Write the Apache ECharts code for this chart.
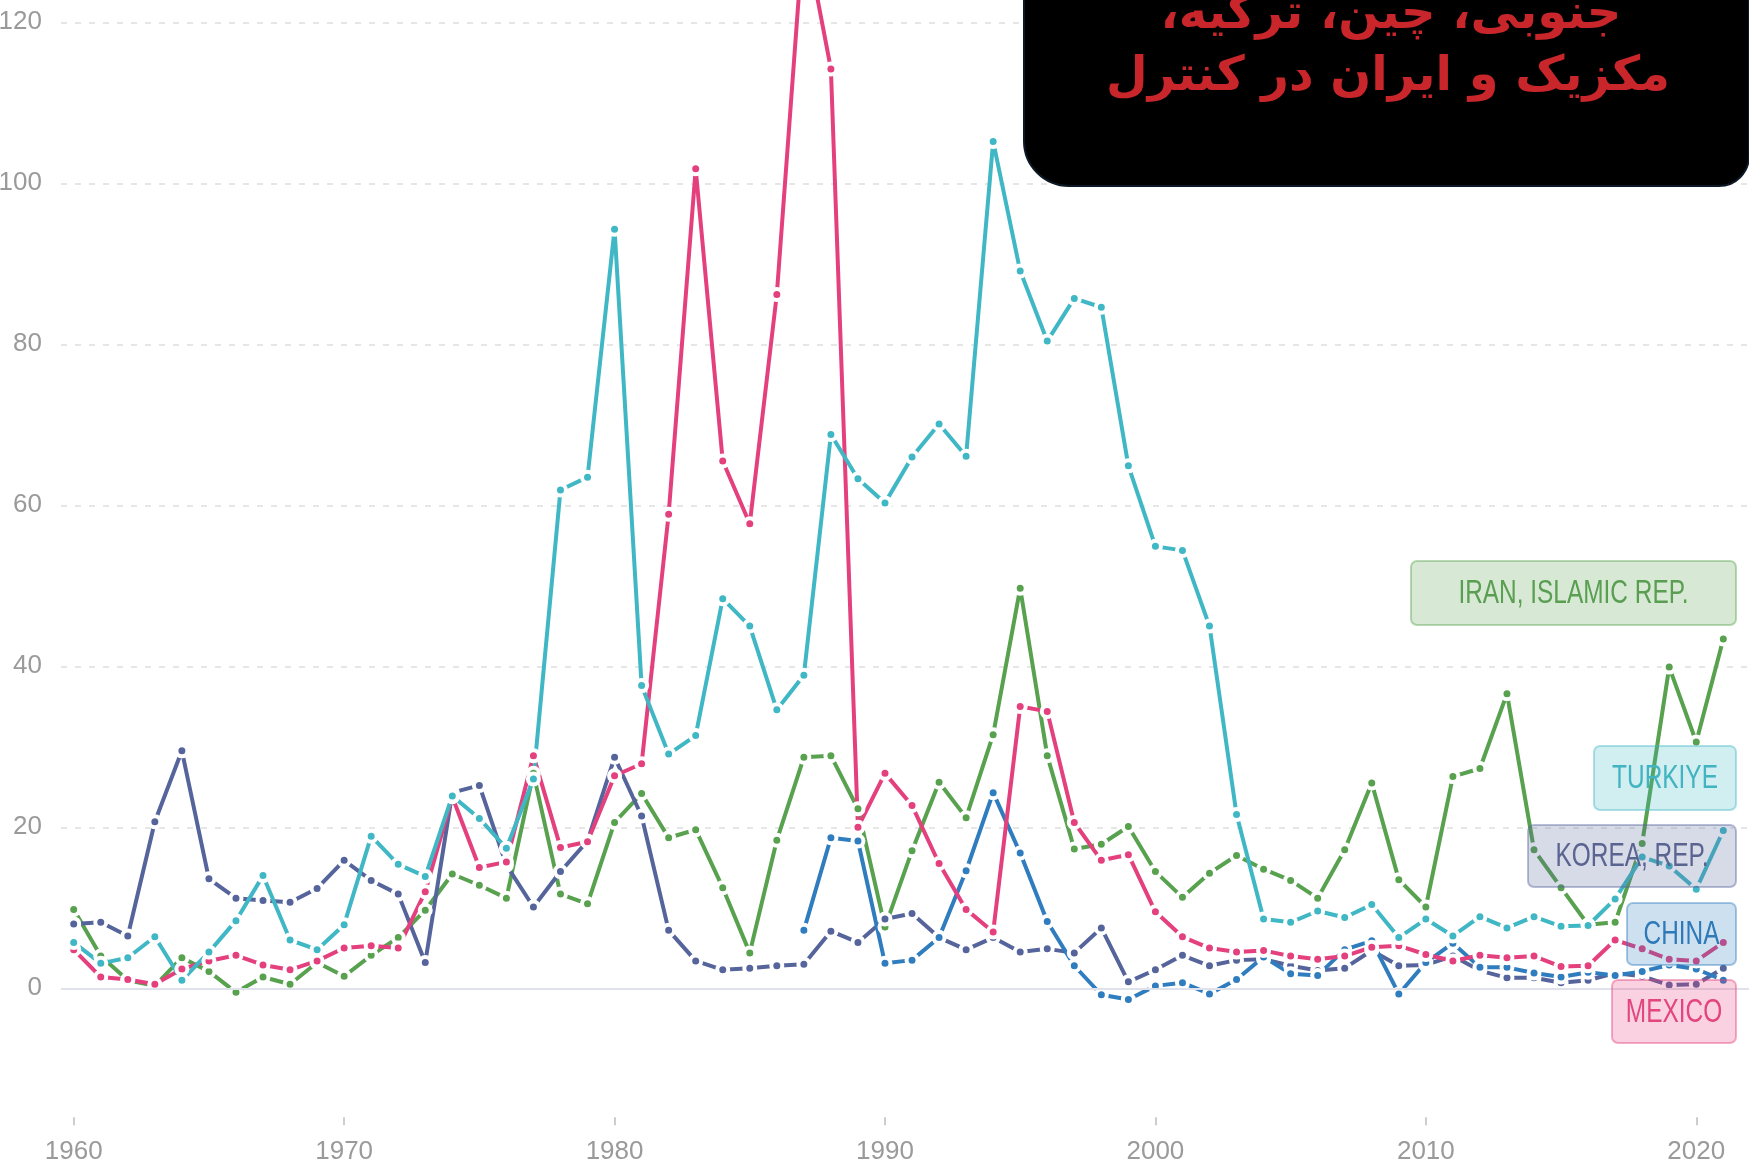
<!DOCTYPE html>
<html>
<head>
<meta charset="utf-8">
<script src="https://cdn.jsdelivr.net/npm/echarts@6/dist/echarts.min.js"></script>
<style>
    html, body { margin: 0; padding: 0; background: #fff; }
    #chart { width: 1749px; height: 1175px; }
</style>
</head>
<body>
<div id="chart"></div>
<script>
    // inflation, consumer prices (annual %)
    const years = [1960, 1961, 1962, 1963, 1964, 1965, 1966, 1967, 1968, 1969,
        1970, 1971, 1972, 1973, 1974, 1975, 1976, 1977, 1978, 1979,
        1980, 1981, 1982, 1983, 1984, 1985, 1986, 1987, 1988, 1989,
        1990, 1991, 1992, 1993, 1994, 1995, 1996, 1997, 1998, 1999,
        2000, 2001, 2002, 2003, 2004, 2005, 2006, 2007, 2008, 2009,
        2010, 2011, 2012, 2013, 2014, 2015, 2016, 2017, 2018, 2019,
        2020, 2021];

    const iran = [9.8, 4.0, 1.0, 0.3, 3.8, 2.1, -0.5, 1.4, 0.5, 3.2,
        1.5, 4.1, 6.3, 9.7, 14.2, 12.8, 11.2, 26.7, 11.7, 10.5,
        20.6, 24.2, 18.7, 19.7, 12.5, 4.4, 18.4, 28.7, 28.9, 22.3,
        7.6, 17.1, 25.6, 21.2, 31.5, 49.7, 28.9, 17.3, 17.9, 20.1,
        14.5, 11.3, 14.3, 16.5, 14.8, 13.4, 11.2, 17.2, 25.5, 13.5,
        10.1, 26.3, 27.3, 36.6, 17.2, 12.5, 7.9, 8.2, 18.0, 39.9,
        30.6, 43.4];

    const korea = [8.0, 8.2, 6.5, 20.7, 29.5, 13.6, 11.2, 10.9, 10.7, 12.4,
        15.9, 13.4, 11.7, 3.2, 24.3, 25.2, 15.3, 10.1, 14.5, 18.3,
        28.7, 21.4, 7.2, 3.4, 2.3, 2.5, 2.8, 3.0, 7.1, 5.7,
        8.6, 9.3, 6.3, 4.8, 6.3, 4.5, 4.9, 4.4, 7.5, 0.8,
        2.3, 4.1, 2.8, 3.5, 3.6, 2.8, 2.2, 2.5, 4.7, 2.8,
        2.9, 4.0, 2.2, 1.3, 1.3, 0.7, 1.0, 1.9, 1.5, 0.4,
        0.5, 2.5];

    const china = [null, null, null, null, null, null, null, null, null, null,
        null, null, null, null, null, null, null, null, null, null,
        null, null, null, null, null, null, null, 7.2, 18.7, 18.3,
        3.1, 3.5, 6.3, 14.6, 24.3, 16.8, 8.3, 2.8, -0.8, -1.4,
        0.3, 0.7, -0.7, 1.1, 3.9, 1.8, 1.6, 4.8, 5.9, -0.7,
        3.2, 5.6, 2.6, 2.6, 1.9, 1.4, 2.0, 1.6, 2.1, 2.9,
        2.4, 1.0];

    const mexico = [4.8, 1.4, 1.1, 0.5, 2.4, 3.4, 4.1, 2.9, 2.3, 3.4,
        5.0, 5.3, 5.0, 12.0, 23.8, 15.0, 15.7, 28.9, 17.5, 18.2,
        26.4, 27.9, 58.9, 101.8, 65.5, 57.7, 86.2, 131.8, 114.2, 20.0,
        26.7, 22.7, 15.5, 9.8, 7.0, 35.0, 34.4, 20.6, 15.9, 16.6,
        9.5, 6.4, 5.0, 4.5, 4.7, 4.0, 3.6, 4.0, 5.1, 5.3,
        4.2, 3.4, 4.1, 3.8, 4.0, 2.7, 2.8, 6.0, 4.9, 3.6,
        3.4, 5.7];

    const turkiye = [5.7, 3.1, 3.8, 6.4, 1.0, 4.5, 8.4, 14.0, 6.0, 4.8,
        7.9, 18.9, 15.4, 13.9, 23.9, 21.1, 17.4, 26.0, 61.9, 63.5,
        94.3, 37.6, 29.1, 31.4, 48.4, 45.0, 34.6, 38.9, 68.8, 63.3,
        60.3, 66.0, 70.1, 66.1, 105.2, 89.1, 80.4, 85.7, 84.6, 64.9,
        54.9, 54.4, 45.0, 21.6, 8.6, 8.2, 9.6, 8.8, 10.4, 6.3,
        8.6, 6.5, 8.9, 7.5, 8.9, 7.7, 7.8, 11.1, 16.3, 15.2,
        12.3, 19.6];

    const xTicks = [1960, 1970, 1980, 1990, 2000, 2010, 2020];
    const yTicks = [0, 20, 40, 60, 80, 100, 120];

    const AXISFONT = "'Liberation Sans', Arial, sans-serif";
    const RLM = '\u200F';

    function pairs(vals){
        return years.map((y, i) => [y, vals[i]]);
    }

    function lineSeries(name, vals, color){
        return {
            name: name,
            type: 'line',
            data: pairs(vals),
            symbol: 'circle',
            symbolSize: 11,
            lineStyle: {width: 4, color: color},
            itemStyle: {color: color, borderColor: '#fff', borderWidth: 4},
            emphasis: {disabled: true},
            silent: true
        };
    }

    // label boxes at the right, text squeezed like the source
    function tagBox(text, x, y, w, h, rgb, textColor){
        return {
            type: 'group',
            children: [{
                type: 'rect',
                z: 50,
                shape: {x: x, y: y, width: w, height: h, r: 6},
                style: {fill: 'rgba(' + rgb + ',0.24)', stroke: 'rgba(' + rgb + ',0.42)', lineWidth: 2}
            }, {
                type: 'text',
                z: 51,
                x: x + w / 2,
                y: y + h / 2 + 1,
                scaleX: 0.74,
                style: {
                    text: text, fill: textColor,
                    font: '33px ' + AXISFONT,
                    align: 'center', verticalAlign: 'middle',
                    textAlign: 'center', textVerticalAlign: 'middle'
                }
            }]
        };
    }

    let chart = echarts.init(document.getElementById('chart'));
    chart.setOption({
        animation: false,
        backgroundColor: '#fff',
        grid: {left: 61, right: 0, top: -138.7, bottom: 25.7, outerBoundsMode: 'none', containLabel: false},
        xAxis: {
            type: 'value',
            min: 1959.53,
            max: 2021.95,
            offset: -32,
            axisLine: {show: false, onZero: false},
            axisTick: {show: true, length: 8, customValues: xTicks, lineStyle: {color: '#bdbdbd', width: 1.5}},
            axisLabel: {
                customValues: xTicks, margin: 22, color: '#9a9a9a',
                fontSize: 26, fontFamily: AXISFONT,
                formatter: v => String(v)
            },
            splitLine: {show: false}
        },
        yAxis: {
            type: 'value',
            min: -20,
            max: 140,
            interval: 20,
            axisLine: {show: false},
            axisTick: {show: false},
            axisLabel: {
                margin: 19, color: '#9a9a9a', fontSize: 26, fontFamily: AXISFONT,
                formatter: v => yTicks.indexOf(v) >= 0 ? String(v) : ''
            },
            splitLine: {
                showMinLine: false, showMaxLine: false,
                lineStyle: {color: '#dedede', width: 1.5, type: [6, 8]}
            }
        },
        series: [
            {
                type: 'line', data: [], z: 1, silent: true,
                markLine: {
                    silent: true, symbol: 'none', label: {show: false},
                    lineStyle: {color: '#dfe2ea', width: 2, type: 'solid'},
                    data: [{yAxis: 0}]
                }
            },
            lineSeries('Iran, Islamic Rep.', iran, '#58a14e'),
            lineSeries('Korea, Rep.', korea, '#56649c'),
            lineSeries('China', china, '#2f7dbf'),
            lineSeries('Mexico', mexico, '#e4407d'),
            lineSeries('Turkiye', turkiye, '#40b7c4')
        ],
        graphic: [
            {
                type: 'rect', z: 100,
                shape: {x: 1024, y: -60, width: 725, height: 246, r: [0, 0, 30, 45]},
                style: {fill: '#000', stroke: '#0c1826', lineWidth: 2}
            },
            {
                type: 'text', z: 101, x: 1391, y: 16,
                style: {
                    text: RLM + 'جنوبی، چین، ترکیه،' + RLM, fill: '#c8262b',
                    font: 'bold 48px "DejaVu Sans"',
                    align: 'center', verticalAlign: 'middle',
                    textAlign: 'center', textVerticalAlign: 'middle'
                }
            },
            {
                type: 'text', z: 101, x: 1388, y: 78,
                style: {
                    text: RLM + 'مکزیک و ایران در کنترل' + RLM, fill: '#c8262b',
                    font: 'bold 48px "DejaVu Sans"',
                    align: 'center', verticalAlign: 'middle',
                    textAlign: 'center', textVerticalAlign: 'middle'
                }
            },
            tagBox('IRAN, ISLAMIC REP.', 1411, 561, 325, 64, '88,161,78', '#5a9e52'),
            tagBox('TURKIYE', 1594, 746, 142, 64, '64,183,196', '#42b3c0'),
            tagBox('KOREA, REP.', 1528, 825, 208, 62, '86,100,156', '#5a6491'),
            tagBox('CHINA', 1627, 903, 109, 62, '47,125,191', '#2e7ab9'),
            tagBox('MEXICO', 1612, 980, 124, 63, '228,64,125', '#e2457f')
        ]
    });
</script>
</body>
</html>
